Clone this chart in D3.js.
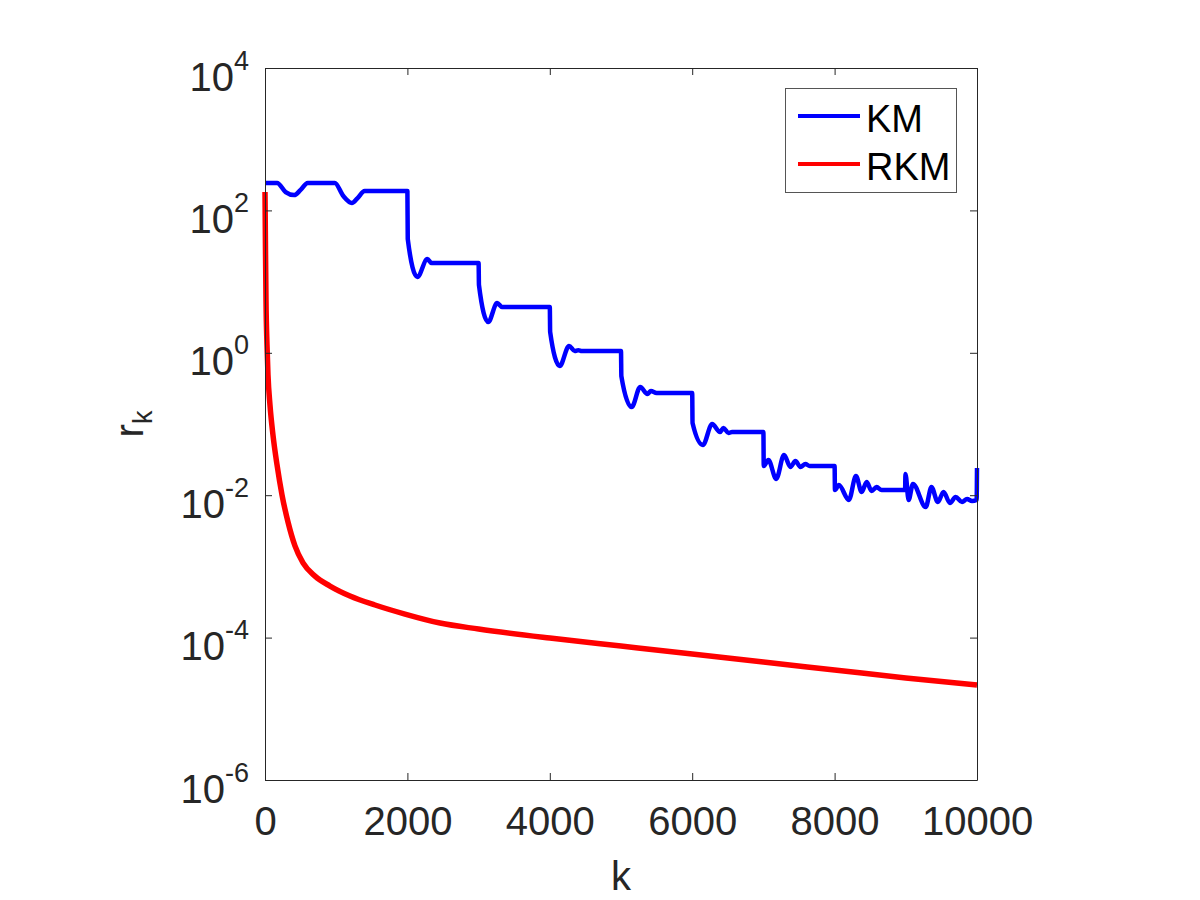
<!DOCTYPE html>
<meta charset="utf-8">
<style>
body { margin: 0; background: #fff; }
text { font-family: "Liberation Sans", Arial, Helvetica, sans-serif; }
</style>
<body>
<script src="https://cdn.jsdelivr.net/npm/d3@7"></script>
<script>

// KM residuals (iteration, residual)
var kmIter = [0,170,290,410,500,600,980,1100,1220,1300,1400,2000,2005,2140,2280,2340,
  3000,3005,3135,3260,3330,4000,4005,4140,4270,4350,4400,4450,5000,5005,5150,5270,5370,5420,5500,
  6000,6005,6150,6280,6390,6440,6510,6560,7000,7005,7070,7180,7290,7380,7450,7520,7590,7650,
  8000,8005,8060,8200,8300,8380,8450,8520,8590,8660,8990,8995,9040,9100,9280,9360,9450,9530,
  9620,9700,9790,9860,9930,9995,10000];
var kmRes = [243,243,181,164,194,243,243,159,127,149,187,187,39.6,11.6,20.7,18.2,
  18.2,8.95,2.71,5.0,4.40,4.40,1.96,0.653,1.25,1.06,1.09,1.06,1.06,0.472,0.173,0.331,0.264,0.290,0.272,
  0.272,0.103,0.0507,0.100,0.0773,0.0879,0.0748,0.0773,0.0773,0.0257,0.0312,0.0169,0.0367,0.0249,0.0302,0.0249,0.0274,0.0257,
  0.0257,0.0118,0.0139,0.00857,0.0186,0.0111,0.0153,0.0115,0.0130,0.0118,0.0118,0.0199,0.00857,0.0144,0.00683,0.0130,0.00802,0.0111,
  0.00776,0.00944,0.00802,0.00885,0.00830,0.00857,0.0241];

// RKM residuals
var rkmIter = [0,7,14,28,42,70,112,169,239,323,421,534,702,913,1194,1545,1966,2458,3000,
  4000,5000,6000,7000,8000,9000,10000];
var rkmRes = [181,27.8,5.5,1.29,0.49,0.185,0.070,0.0266,0.0101,4.2e-3,1.94e-3,1.12e-3,7.3e-4,5.3e-4,3.84e-4,2.87e-4,2.14e-4,1.6e-4,1.32e-4,
  9.86e-5,7.62e-5,5.89e-5,4.54e-5,3.51e-5,2.71e-5,2.16e-5];

var xTicks = [0,2000,4000,6000,8000,10000];
var yTickExp = [-6,-4,-2,0,2,4];
var seriesNames = ["KM","RKM"];
var seriesColors = ["#0000ff","#ff0000"];

var W = 1200, H = 900;
var plotL = 265, plotR = 977, plotT = 68, plotB = 780;
var axisCol = "#262626";

var svg = d3.select("body").append("svg")
    .attr("width", W)
    .attr("height", H);

svg.append("rect").attr("width", W).attr("height", H).attr("fill", "#fff");

var x = d3.scaleLinear().domain([0, 10000]).range([plotL, plotR]);
var y = d3.scaleLog().domain([1e-6, 1e4]).range([plotB, plotT]);

// data lines
var line = d3.line()
    .x(function(d) { return x(d[0]); })
    .y(function(d) { return y(d[1]); })
    .curve(d3.curveMonotoneX);

var series = [
  d3.zip(kmIter, kmRes),
  d3.zip(rkmIter, rkmRes)
];

svg.selectAll(".series")
    .data(series)
  .enter().append("path")
    .attr("class", "series")
    .attr("d", line)
    .attr("fill", "none")
    .attr("stroke", function(d, i) { return seriesColors[i]; })
    .attr("stroke-width", function(d, i) { return i == 0 ? 4.5 : 5.5; })
    .attr("stroke-linejoin", "round");

// axes (ticks point inward)
var yVals = yTickExp.map(function(e) { return Math.pow(10, e); });

var gx = svg.append("g")
    .attr("transform", "translate(0," + plotB + ")")
    .call(d3.axisBottom(x).tickValues(xTicks).tickSizeInner(-7).tickSizeOuter(0)
      .tickPadding(27).tickFormat(d3.format("d")));

svg.append("g")
    .attr("transform", "translate(0," + plotT + ")")
    .call(d3.axisTop(x).tickValues(xTicks).tickSizeInner(-7).tickSizeOuter(0).tickFormat(""));

var gy = svg.append("g")
    .attr("transform", "translate(" + plotL + ",0)")
    .call(d3.axisLeft(y).tickValues(yVals).tickSizeInner(-7).tickSizeOuter(0).tickFormat(""));

svg.append("g")
    .attr("transform", "translate(" + plotR + ",0)")
    .call(d3.axisRight(y).tickValues(yVals).tickSizeInner(-7).tickSizeOuter(0).tickFormat(""));

svg.selectAll(".domain").attr("stroke", axisCol);
svg.selectAll(".tick line").attr("stroke", axisCol);

gx.selectAll(".tick text")
    .attr("fill", axisCol)
    .style("font-size", "40px")
    .style("font-family", "'Liberation Sans', Arial, sans-serif");

// y tick labels: 10 with superscript exponent
gy.selectAll(".tick").each(function(d) {
  var t = d3.select(this).append("text")
      .attr("x", -16)
      .attr("y", 22)
      .attr("text-anchor", "end")
      .attr("fill", axisCol)
      .style("font-size", "40px");
  t.append("tspan").text("10");
  t.append("tspan")
      .attr("dy", -21)
      .style("font-size", "27px")
      .text(String(Math.round(Math.log10(d))));
});

// axis labels
svg.append("text")
    .attr("x", (plotL + plotR) / 2)
    .attr("y", 890)
    .attr("text-anchor", "middle")
    .attr("fill", axisCol)
    .style("font-size", "40px")
    .text("k");

var yl = svg.append("text")
    .attr("transform", "translate(143," + ((plotT + plotB) / 2) + ") rotate(-90)")
    .attr("text-anchor", "middle")
    .attr("fill", axisCol)
    .style("font-size", "40px");
yl.append("tspan").text("r");
yl.append("tspan").attr("dy", 9).style("font-size", "27px").text("k");

// legend
var lg = svg.append("g");
lg.append("rect")
    .attr("x", 785.5).attr("y", 88.5)
    .attr("width", 171).attr("height", 104)
    .attr("fill", "#fff")
    .attr("stroke", "#555")
    .attr("stroke-width", 1);

seriesNames.forEach(function(name, i) {
  var ly = 116 + i * 48;
  lg.append("line")
      .attr("x1", 798).attr("x2", 860)
      .attr("y1", ly).attr("y2", ly)
      .attr("stroke", seriesColors[i])
      .attr("stroke-width", 4);
  lg.append("text")
      .attr("x", 866)
      .attr("y", ly + 16)
      .attr("fill", "#000")
      .style("font-size", "38px")
      .text(name);
});

</script>
</body>
